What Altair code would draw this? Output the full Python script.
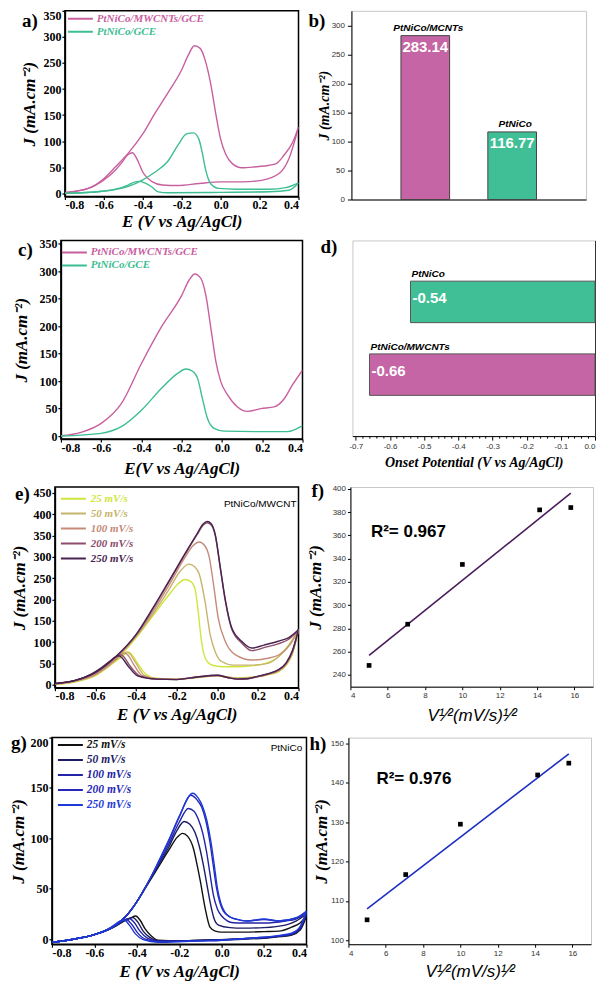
import altair as alt
import pandas as pd

SERIF = "Liberation Serif"
SANS = "Liberation Sans"
MINUS = "\u2212"
YTITLE = "J (mA.cm\u207b\u00b2)"
FIT_XTITLE = "V\u00b9\u2044\u00b2(mV/s)\u00b9\u2044\u00b2"

PINK = "#c8609f"
TEAL = "#3dbd92"
BAR_PINK = "#c565a5"
BAR_TEAL = "#40bf97"

# ---------------- panel a : CV ----------------
A_NAMES = ["PtNiCo/MWCNTs/GCE", "PtNiCo/GCE"]
A_MW_FWD_E = [-0.80, -0.68, -0.61, -0.54, -0.47, -0.40, -0.34, -0.27, -0.20, -0.165, -0.135, -0.105, -0.08, -0.052, -0.026, 0.0, 0.025, 0.06, 0.11, 0.18, 0.25, 0.285, 0.325, 0.37, 0.40]
A_MW_FWD_J = [2, 9.5, 25, 51, 79, 114, 152, 193, 237, 266, 283, 278, 256, 212, 155, 104, 76, 57, 49, 51, 54, 57, 73, 98, 127]
A_MW_BWD_E = [0.40, 0.35, 0.30, 0.21, 0.11, 0.0, -0.11, -0.22, -0.30, -0.35, -0.40, -0.43, -0.453, -0.477, -0.51, -0.54, -0.61, -0.68, -0.80]
A_MW_BWD_J = [127, 66, 38, 25, 22, 22, 19, 15, 16, 22, 41, 66, 78, 74, 58, 45, 23, 9.5, 1]
A_GC_FWD_E = [-0.80, -0.61, -0.47, -0.40, -0.34, -0.27, -0.22, -0.175, -0.14, -0.112, -0.095, -0.078, -0.052, -0.01, 0.08, 0.25, 0.335, 0.40]
A_GC_FWD_J = [0, 4, 14, 26, 40, 62, 92, 114, 116, 104, 79, 47, 19, 9.5, 8, 8, 11, 20]
A_GC_BWD_E = [0.40, 0.35, 0.25, 0.0, -0.27, -0.32, -0.355, -0.39, -0.415, -0.44, -0.475, -0.54, -0.61, -0.80]
A_GC_BWD_J = [20, 6, 3, 2, 1.3, 3, 12.7, 20, 23, 22, 16, 8, 4, 0]

# ---------------- panel b : bars ----------------
B_CATS = ["PtNiCo/MCNTs", "PtNiCo"]
B_VALS = [283.14, 116.77]

# ---------------- panel c : LSV ----------------
C_MW_E = [-0.80, -0.70, -0.60, -0.50, -0.40, -0.30, -0.20, -0.163, -0.135, -0.105, -0.08, -0.055, -0.03, -0.006, 0.028, 0.077, 0.127, 0.193, 0.259, 0.309, 0.35, 0.40]
C_MW_J = [0.6, 6.7, 23, 59, 132, 199, 256, 284, 295, 287, 256, 196, 135, 99, 75, 53, 45, 50, 53, 68, 93, 120]
C_GC_E = [-0.80, -0.60, -0.50, -0.40, -0.30, -0.22, -0.18, -0.146, -0.121, -0.097, -0.072, -0.039, 0.011, 0.226, 0.325, 0.40]
C_GC_J = [0, 5, 17, 47, 87, 114, 122, 118, 105, 68, 32, 14, 9, 8, 8, 19]

# ---------------- panel d : onset potential ----------------
D_CATS = ["PtNiCo", "PtNiCo/MWCNTs"]
D_VALS = [-0.54, -0.66]

# ---------------- panel e : scan rates, PtNiCo/MWCNT ----------------
E_NAMES = ["25 mV/s", "50 mV/s", "100 mV/s", "200 mV/s", "250 mV/s"]
E_COLORS = ["#cfe63c", "#c7b46c", "#c58a78", "#8d4d6c", "#4a2450"]
E25_F_E = [-0.8, -0.7, -0.6, -0.5, -0.4, -0.32, -0.24, -0.19, -0.16, -0.13, -0.11, -0.095, -0.08, -0.065, -0.045, -0.02, 0.04, 0.1, 0.2, 0.26, 0.3, 0.35, 0.4]
E25_F_J = [1, 7, 22, 58, 110, 160, 210, 238, 247, 242, 225, 175, 110, 70, 52, 45, 42, 42, 46, 54, 65, 92, 129]
E25_B_E = [0.4, 0.37, 0.34, 0.3, 0.25, 0.2, 0.15, 0.1, 0.05, 0.0, -0.1, -0.2, -0.3, -0.35, -0.39, -0.42, -0.435, -0.455, -0.48, -0.52, -0.6, -0.7, -0.8]
E25_B_J = [129, 72, 46, 30, 23, 19, 17, 16, 18, 20, 17, 13, 15, 24, 48, 70, 76, 72, 62, 48, 22, 7, 1]
E50_F_E = [-0.8, -0.7, -0.6, -0.5, -0.4, -0.32, -0.24, -0.18, -0.14, -0.11, -0.09, -0.06, -0.035, -0.01, 0.02, 0.08, 0.17, 0.25, 0.3, 0.35, 0.4]
E50_F_J = [1, 8, 24, 61, 113, 164, 222, 268, 283, 276, 261, 194, 117, 77, 55, 46, 46, 50, 65, 90, 129]
E50_B_E = [0.4, 0.37, 0.34, 0.3, 0.25, 0.2, 0.15, 0.1, 0.05, 0.0, -0.1, -0.2, -0.3, -0.36, -0.4, -0.43, -0.445, -0.465, -0.49, -0.53, -0.6, -0.7, -0.8]
E50_B_J = [129, 74, 47, 31, 24, 19, 16, 15, 18, 21, 17, 13, 14, 22, 50, 72, 77, 72, 62, 46, 23, 8, 1]
E100_F_E = [-0.8, -0.7, -0.6, -0.5, -0.4, -0.32, -0.24, -0.16, -0.12, -0.09, -0.06, -0.04, -0.02, 0.005, 0.04, 0.09, 0.17, 0.25, 0.31, 0.36, 0.4]
E100_F_J = [2, 9, 26, 63, 115, 170, 232, 298, 326, 335, 325, 300, 240, 155, 101, 70, 58, 62, 72, 95, 129]
E100_B_E = [0.4, 0.37, 0.34, 0.3, 0.25, 0.2, 0.15, 0.1, 0.05, 0.0, -0.1, -0.2, -0.3, -0.37, -0.41, -0.44, -0.455, -0.475, -0.5, -0.54, -0.6, -0.7, -0.8]
E100_B_J = [129, 76, 49, 33, 25, 19, 15, 14, 17, 21, 18, 13, 14, 21, 46, 69, 74, 70, 60, 44, 25, 9, 2]
E200_F_E = [-0.8, -0.7, -0.6, -0.5, -0.4, -0.32, -0.24, -0.16, -0.1, -0.07, -0.05, -0.03, -0.01, 0.015, 0.04, 0.07, 0.12, 0.17, 0.23, 0.3, 0.35, 0.4]
E200_F_J = [2, 10, 28, 65, 117, 176, 240, 305, 352, 374, 380, 375, 350, 272, 195, 132, 98, 80, 87, 96, 106, 129]
E200_B_E = [0.4, 0.37, 0.34, 0.3, 0.25, 0.2, 0.15, 0.1, 0.05, 0.0, -0.1, -0.2, -0.3, -0.38, -0.43, -0.46, -0.475, -0.495, -0.52, -0.56, -0.62, -0.7, -0.8]
E200_B_J = [129, 78, 51, 34, 25, 19, 14, 13, 17, 22, 18, 12, 13, 20, 44, 65, 70, 67, 58, 42, 25, 10, 2]
E250_F_E = [-0.8, -0.7, -0.6, -0.5, -0.4, -0.32, -0.24, -0.16, -0.1, -0.07, -0.05, -0.03, -0.01, 0.015, 0.04, 0.07, 0.12, 0.17, 0.23, 0.3, 0.35, 0.4]
E250_F_J = [3, 10, 29, 66, 118, 178, 242, 307, 354, 377, 383, 378, 352, 275, 198, 135, 102, 86, 93, 102, 110, 129]
E250_B_E = [0.4, 0.37, 0.34, 0.3, 0.25, 0.2, 0.15, 0.1, 0.05, 0.0, -0.1, -0.2, -0.3, -0.39, -0.44, -0.47, -0.485, -0.505, -0.53, -0.57, -0.62, -0.7, -0.8]
E250_B_J = [129, 80, 52, 35, 26, 20, 14, 13, 17, 22, 18, 12, 13, 20, 44, 63, 68, 64, 55, 40, 25, 10, 3]

# ---------------- panel f : fit ----------------
F_X = [5.0, 7.07, 10.0, 14.14, 15.81]
F_Y = [248, 283.5, 335, 382, 384]
F_R2 = "R\u00b2= 0.967"

# ---------------- panel g : scan rates, PtNiCo ----------------
G_COLORS = ["#111111", "#1c1c66", "#2323a6", "#2727b8", "#1e3ad6"]
G25_F_E = [-0.8, -0.7, -0.6, -0.5, -0.45, -0.4, -0.35, -0.3, -0.25, -0.21, -0.184, -0.16, -0.133, -0.115, -0.1, -0.078, -0.055, -0.03, 0.0, 0.1, 0.2, 0.27, 0.33, 0.37, 0.4]
G25_F_J = [-3, 0, 4.5, 14, 23, 37, 54, 71, 88, 101, 105, 102, 90, 73, 57, 31, 12, 8, 7, 7, 7.5, 8, 12, 16, 23]
G25_B_E = [0.4, 0.37, 0.33, 0.28, 0.2, 0.1, 0.0, -0.1, -0.2, -0.3, -0.33, -0.36, -0.385, -0.405, -0.43, -0.46, -0.5, -0.6, -0.7, -0.8]
G25_B_J = [23, 9, 4, 2.5, 1, 0, -0.5, -1, -1.5, -1, 3, 10, 19, 23, 21, 18, 13, 4.5, 0, -3]
G50_F_E = [-0.8, -0.7, -0.6, -0.5, -0.45, -0.4, -0.35, -0.3, -0.25, -0.21, -0.177, -0.15, -0.126, -0.105, -0.086, -0.07, -0.055, -0.035, -0.015, 0.04, 0.1, 0.2, 0.3, 0.35, 0.4]
G50_F_J = [-3, 0, 4.5, 14, 23, 37, 55, 73, 91, 108, 116.7, 114, 106, 92, 73.5, 55, 37.6, 20, 14, 11.5, 11, 11.5, 14, 18, 25]
G50_B_E = [0.4, 0.37, 0.33, 0.28, 0.2, 0.1, 0.0, -0.1, -0.2, -0.3, -0.34, -0.37, -0.395, -0.42, -0.445, -0.47, -0.5, -0.6, -0.7, -0.8]
G50_B_J = [25, 10, 4.5, 3, 1.5, 0.5, -0.5, -1, -1.5, -1.5, 2, 8, 17, 21.5, 20, 17, 13, 4.5, 0, -3]
G100_F_E = [-0.8, -0.7, -0.6, -0.5, -0.45, -0.4, -0.35, -0.3, -0.25, -0.2, -0.157, -0.13, -0.11, -0.09, -0.071, -0.055, -0.039, -0.02, 0.0, 0.055, 0.1, 0.2, 0.3, 0.35, 0.4]
G100_F_J = [-3, 0, 4.5, 14, 23, 37, 55, 74, 94, 116, 129.7, 127, 119, 106, 86.6, 65, 44, 30, 23, 16.3, 16, 16, 18, 20, 26]
G100_B_E = [0.4, 0.37, 0.33, 0.28, 0.2, 0.1, 0.0, -0.1, -0.2, -0.3, -0.35, -0.385, -0.41, -0.435, -0.46, -0.48, -0.52, -0.6, -0.7, -0.8]
G100_B_J = [26, 11, 5, 3, 1.5, 0.5, -1, -1.5, -2, -2, 1, 8, 16, 20.5, 19, 16.5, 11, 4.5, 0, -3]
G200_F_E = [-0.8, -0.7, -0.6, -0.5, -0.45, -0.4, -0.35, -0.3, -0.25, -0.2, -0.146, -0.115, -0.094, -0.075, -0.055, -0.04, -0.024, -0.008, 0.008, 0.04, 0.071, 0.12, 0.2, 0.27, 0.35, 0.4]
G200_F_J = [-3, 0, 4.5, 14, 23, 37, 55, 75, 97, 121, 142.8, 138, 131, 118, 96, 74, 50.7, 36, 27.8, 22, 19.6, 18, 19.6, 18, 21, 27.5]
G200_B_E = [0.4, 0.37, 0.33, 0.28, 0.2, 0.1, 0.0, -0.1, -0.2, -0.3, -0.36, -0.395, -0.425, -0.45, -0.47, -0.49, -0.53, -0.6, -0.7, -0.8]
G200_B_J = [27.5, 12, 5.5, 3.5, 2, 0.5, -1, -1.5, -2, -2.5, 0, 6, 15, 19.5, 18.5, 16, 10, 4.5, 0, -3]
G250_F_E = [-0.8, -0.7, -0.6, -0.5, -0.45, -0.4, -0.35, -0.3, -0.25, -0.2, -0.136, -0.11, -0.09, -0.07, -0.05, -0.035, -0.02, -0.004, 0.012, 0.04, 0.075, 0.12, 0.2, 0.27, 0.35, 0.4]
G250_F_J = [-3, 0, 4.5, 14, 23, 37, 55, 76, 98, 122, 144.8, 140, 132, 118, 96, 74, 50.7, 36, 28, 22, 19.6, 18, 20, 18, 21, 28]
G250_B_E = [0.4, 0.37, 0.33, 0.28, 0.2, 0.1, 0.0, -0.1, -0.2, -0.3, -0.37, -0.405, -0.435, -0.46, -0.48, -0.5, -0.54, -0.6, -0.7, -0.8]
G250_B_J = [28, 12.5, 6, 4, 2, 0.5, -1, -1.5, -2.5, -3, -0.5, 5, 14, 19, 18, 15, 9.5, 4.5, 0, -3]

# ---------------- panel h : fit ----------------
H_X = [5.0, 7.07, 10.0, 14.14, 15.81]
H_Y = [105.2, 116.7, 129.5, 142, 145]
H_R2 = "R\u00b2= 0.976"

CV_XTICKS = [-0.8, -0.6, -0.4, -0.2, 0.0, 0.2, 0.4]
LABEL_EXPR = "replace(format(datum.value, '.1f'), '" + MINUS + "', '-')"

CV_AX = dict(domainColor="black", domainWidth=1.5, tickColor="black", tickWidth=1.2, tickSize=3,
             labelFont=SERIF, labelFontWeight="bold", labelFontSize=12, labelColor="black",
             titleFont=SERIF, titleFontWeight="bold", titleFontStyle="italic", titleFontSize=17,
             titleColor="black", grid=False)
SC_BASE = dict(domainColor="black", domainWidth=1, tickColor="black",
               labelFont=SANS, labelFontSize=8, labelColor="#333333", grid=False, titleColor="black")


def letter_layer(txt, x, y):
    return alt.Chart(pd.DataFrame({"t": [txt]})).mark_text(
        font=SERIF, fontWeight="bold", fontSize=19, align="left", baseline="middle", color="black"
    ).encode(text="t:N", x=alt.value(x), y=alt.value(y))


def spacer(w, h):
    return alt.Chart(pd.DataFrame({"v": [0]})).mark_point(size=0, opacity=0).encode(
        x=alt.value(0), y=alt.value(0)
    ).properties(width=w, height=h, view=alt.ViewBackground(stroke=None))


def indep(c):
    return c.resolve_scale(color="independent").resolve_legend(color="independent")


def cv_panel(series, names, colors, width, height, ydom, yvals, xtitle, ypad, xpad, leg, letter,
             note=None):
    rows = []
    for name, (fe, fj, be, bj) in zip(names, series):
        k = 0
        for bi, (es, js) in enumerate(((fe, fj), (be, bj))):
            for e, j in zip(es, js):
                rows.append({"series": name, "branch": f"{name}|{bi}", "E": e, "J": j, "k": k})
                k += 1
    df = pd.DataFrame(rows)
    expr = "'" + colors[-1] + "'"
    for n, c in reversed(list(zip(names[:-1], colors[:-1]))):
        expr = f"datum.value === '{n}' ? '{c}' : " + expr
    x = alt.X("E:Q", title=xtitle, scale=alt.Scale(domain=[-0.8, 0.4], nice=False, zero=False),
              axis=alt.Axis(values=CV_XTICKS, labelExpr=LABEL_EXPR, labelPadding=0,
                            titlePadding=xpad, **CV_AX))
    y = alt.Y("J:Q", title=YTITLE, scale=alt.Scale(domain=ydom, nice=False, zero=False),
              axis=alt.Axis(values=yvals, format="d", labelPadding=1, titlePadding=ypad,
                            labelFlush=True, **CV_AX))
    color = alt.Color("series:N", sort=names, scale=alt.Scale(domain=names, range=colors),
                      legend=alt.Legend(orient="none", legendX=leg["x"], legendY=leg["y"], title=None,
                                        symbolType="stroke", symbolSize=625,
                                        symbolStrokeWidth=2, labelFont=SERIF,
                                        labelFontSize=leg["fs"], labelFontStyle="italic",
                                        labelFontWeight="bold", labelColor={"expr": expr},
                                        clipHeight=leg["ch"], rowPadding=0, padding=0,
                                        labelOffset=leg["lo"]))
    line = alt.Chart(df).mark_line(strokeWidth=1.4, interpolate="monotone", clip=True).encode(
        x=x, y=y, color=color, detail="branch:N", order="k:Q")
    layers = [line, letter_layer(*letter)]
    if note is not None:
        ndf = pd.DataFrame({"E": [note[0]], "J": [note[1]], "t": [note[2]]})
        layers.append(alt.Chart(ndf).mark_text(font=SANS, fontSize=10, align="right",
                                               baseline="middle", color="black").encode(
            x=x, y=y, text="t:N"))
    return alt.layer(*layers).properties(
        width=width, height=height, view=alt.ViewBackground(stroke="black", strokeWidth=1.5))


def fit_panel(xs, ys, lcolor, ydom, yvals, r2, r2pos, width, height, ypad, xpad, letter):
    df = pd.DataFrame({"x": xs, "y": ys})
    x = alt.X("x:Q", title=FIT_XTITLE, scale=alt.Scale(domain=[4, 17], nice=False, zero=False),
              axis=alt.Axis(values=[4, 6, 8, 10, 12, 14, 16], tickSize=3, labelPadding=2,
                            titlePadding=xpad, titleFont=SANS, titleFontStyle="italic",
                            titleFontWeight="normal", titleFontSize=17, **SC_BASE))
    y = alt.Y("y:Q", title=YTITLE, scale=alt.Scale(domain=ydom, nice=False, zero=False),
              axis=alt.Axis(values=yvals, tickSize=3, labelPadding=2, titlePadding=ypad,
                            titleFont=SERIF, titleFontStyle="italic", titleFontWeight="bold",
                            titleFontSize=17, **SC_BASE))
    reg = alt.Chart(df).transform_regression("x", "y").mark_line(
        color=lcolor, strokeWidth=1.6).encode(x=x, y=y)
    pts = alt.Chart(df).mark_square(size=22, color="black", opacity=1).encode(x=x, y=y)
    tdf = pd.DataFrame({"x": [r2pos[0]], "y": [r2pos[1]], "t": [r2]})
    txt = alt.Chart(tdf).mark_text(font=SANS, fontWeight="bold", fontSize=17, align="left",
                                   baseline="middle", color="black").encode(x=x, y=y, text="t:N")
    return alt.layer(reg, pts, txt, letter_layer(*letter)).properties(
        width=width, height=height, view=alt.ViewBackground(stroke="#c8c8c8", strokeWidth=1))


# ---------- panel a ----------
pa = cv_panel([(A_MW_FWD_E, A_MW_FWD_J, A_MW_BWD_E, A_MW_BWD_J),
               (A_GC_FWD_E, A_GC_FWD_J, A_GC_BWD_E, A_GC_BWD_J)],
              A_NAMES, [PINK, TEAL], 234, 186, [-6, 350], list(range(0, 351, 50)),
              "E (V vs Ag/AgCl)", 4, 3,
              dict(x=2, y=1.5, fs=11, ch=13, lo=3), ("a)", -43, 10))

# ---------- panel b ----------
b_df = pd.DataFrame({"cat": B_CATS, "val": B_VALS, "lab": [f"{v:.2f}" for v in B_VALS]})
xb = alt.X("cat:N", sort=B_CATS, title=None,
           scale=alt.Scale(paddingInner=0.44, paddingOuter=0.57),
           axis=alt.Axis(labels=False, ticks=False, domainColor="black", domainWidth=1))
yb = alt.Y("val:Q", title=YTITLE, scale=alt.Scale(domain=[0, 326], nice=False),
           axis=alt.Axis(values=list(range(0, 301, 50)), tickSize=4, labelPadding=3, titlePadding=0,
                         titleFont=SERIF, titleFontStyle="italic", titleFontWeight="bold",
                         titleFontSize=14, **SC_BASE))
b_bars = alt.Chart(b_df).mark_bar(stroke="#444444", strokeWidth=1).encode(
    x=xb, y=yb, color=alt.Color("cat:N", scale=alt.Scale(domain=B_CATS, range=[BAR_PINK, BAR_TEAL]),
                                legend=None))
b_cat = alt.Chart(b_df).mark_text(font=SANS, fontStyle="italic", fontWeight="bold", fontSize=10,
                                  baseline="middle", dy=-8, dx=3, color="black").encode(
    x=xb, y=yb, text="cat:N")
b_val = alt.Chart(b_df).mark_text(font=SANS, fontWeight="bold", fontSize=15, baseline="middle",
                                  dy=11, color="white").encode(x=xb, y=yb, text="lab:N")
pb = alt.layer(b_bars, b_cat, b_val, letter_layer("b)", -43, 10)).properties(
    width=235, height=189, view=alt.ViewBackground(stroke="#c8c8c8", strokeWidth=1))

# ---------- panel c ----------
pc = cv_panel([(C_MW_E, C_MW_J, [], []), (C_GC_E, C_GC_J, [], [])],
              A_NAMES, [PINK, TEAL], 242, 199, [-5.5, 356], list(range(0, 351, 50)),
              "E(V vs Ag/AgCl)", 8, 7,
              dict(x=0, y=5.5, fs=11, ch=13, lo=3), ("c)", -43, 10))

# ---------- panel d ----------
d_df = pd.DataFrame({"cat": D_CATS, "val": D_VALS, "lab": [f"{v:.2f}" for v in D_VALS]})
D_TICKS = [round(-0.70 + 0.02 * i, 2) for i in range(36)]
xd = alt.X("val:Q", title="Onset Potential (V vs Ag/AgCl)",
           scale=alt.Scale(domain=[-0.71, 0], nice=False, zero=False),
           axis=alt.Axis(values=D_TICKS,
                         labelExpr="abs(datum.value*10 - round(datum.value*10)) < 0.01 ? " + LABEL_EXPR + " : ''",
                         tickSize={"expr": "abs(datum.value*10 - round(datum.value*10)) < 0.01 ? 4 : 2"},
                         labelAlign={"expr": "datum.value > -0.001 ? 'right' : 'center'"},
                         labelPadding=2, titlePadding=5, titleFont=SERIF, titleFontStyle="italic",
                         titleFontWeight="bold", titleFontSize=14, **SC_BASE))
yd = alt.Y("cat:N", sort=D_CATS, title=None, scale=alt.Scale(paddingInner=0.43, paddingOuter=0.56),
           axis=alt.Axis(orient="right", labels=False, ticks=False, domainColor="#333333"))
d_bars = alt.Chart(d_df).mark_bar(stroke="#555555", strokeWidth=1).encode(
    x=xd, y=yd, color=alt.Color("cat:N", scale=alt.Scale(domain=D_CATS, range=[BAR_TEAL, BAR_PINK]),
                                legend=None))
d_cat = alt.Chart(d_df).mark_text(font=SANS, fontStyle="italic", fontWeight="bold", fontSize=10,
                                  align="left", baseline="middle", dy=-28, dx=1,
                                  color="black").encode(x=xd, y=yd, text="cat:N")
d_val = alt.Chart(d_df).mark_text(font=SANS, fontWeight="bold", fontSize=15, align="left",
                                  baseline="middle", dx=2, dy=-4, color="white").encode(
    x=xd, y=yd, text="lab:N")
pd_ = alt.layer(d_bars, d_cat, d_val, letter_layer("d)", -32, 7)).properties(
    width=243, height=196, view=alt.ViewBackground(stroke="#c8c8c8", strokeWidth=1))

# ---------- panel e ----------
pe = cv_panel([(E25_F_E, E25_F_J, E25_B_E, E25_B_J), (E50_F_E, E50_F_J, E50_B_E, E50_B_J),
               (E100_F_E, E100_F_J, E100_B_E, E100_B_J), (E200_F_E, E200_F_J, E200_B_E, E200_B_J),
               (E250_F_E, E250_F_J, E250_B_E, E250_B_J)],
              E_NAMES, E_COLORS, 244, 201, [-7, 464], list(range(0, 451, 50)),
              "E (V vs Ag/AgCl)", 4, 5,
              dict(x=5, y=4.5, fs=11, ch=14.3, lo=4), ("e)", -40, 7),
              note=(0.39, 425, "PtNiCo/MWCNT"))

# ---------- panel f ----------
pf = fit_panel(F_X, F_Y, "#4b1c5a", [229.7, 401.7], list(range(240, 401, 20)), F_R2, (5.1, 363),
               243, 200, 8, 8, ("f)", -39, 4))

# ---------- panel g ----------
pg = cv_panel([(G25_F_E, G25_F_J, G25_B_E, G25_B_J), (G50_F_E, G50_F_J, G50_B_E, G50_B_J),
               (G100_F_E, G100_F_J, G100_B_E, G100_B_J), (G200_F_E, G200_F_J, G200_B_E, G200_B_J),
               (G250_F_E, G250_F_J, G250_B_E, G250_B_J)],
              E_NAMES, G_COLORS, 255, 207, [-5, 200], list(range(0, 201, 50)),
              "E (V vs Ag/AgCl)", 2, 5,
              dict(x=5, y=0, fs=11.5, ch=15, lo=3), ("g)", -41, 5),
              note=(0.38, 189.5, "PtNiCo"))

# ---------- panel h ----------
ph = fit_panel(H_X, H_Y, "#1c2fc0", [99, 151.5], list(range(100, 151, 10)), H_R2, (5.5, 141),
               243, 207, 0, 6, ("h)", -39, 6))

row1 = indep(alt.hconcat(spacer(12, 226), indep(alt.hconcat(pa, pb, spacing=7)), spacing=0))
row2 = indep(alt.hconcat(spacer(4, 241), indep(alt.hconcat(pc, pd_, spacing=15)), spacing=0))
row3 = indep(alt.hconcat(spacer(2, 246), indep(alt.hconcat(pe, pf, spacing=5)), spacing=0))
row4 = indep(alt.hconcat(spacer(1, 200), indep(alt.hconcat(pg, ph, spacing=0)), spacing=0))

chart = indep(alt.vconcat(row1, row2, row3, row4, spacing=0)).properties(
    padding=0, background="white")

chart.save("out.html", embed_options={"renderer": "svg", "actions": False})
